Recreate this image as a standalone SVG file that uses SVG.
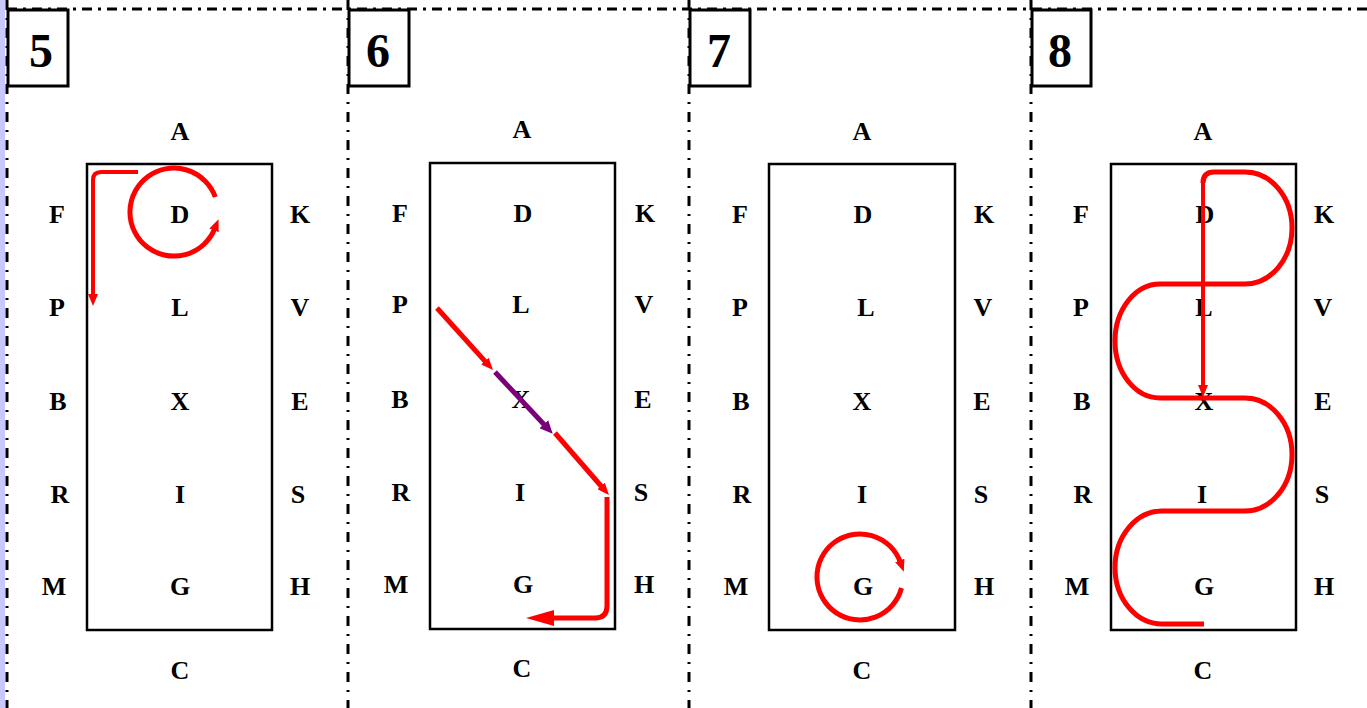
<svg xmlns="http://www.w3.org/2000/svg" width="1367" height="708" viewBox="0 0 1367 708">
<style>
.lbl{font-family:"Liberation Serif","Times New Roman",serif;font-weight:bold;font-size:26px;fill:#000;text-anchor:middle}
.num{font-family:"Liberation Serif","Times New Roman",serif;font-weight:bold;font-size:48px;fill:#000;text-anchor:middle}
.sep{stroke:#000;stroke-width:3;fill:none}
.box{stroke:#000;stroke-width:2.5;fill:none}
.nbox{stroke:#000;stroke-width:3;fill:#fff}
.red{stroke:#ff0000;stroke-width:4;fill:none}
.redw{stroke:#ff0000;stroke-width:5;fill:none}
.pur{stroke:#7a007a;stroke-width:5;fill:none}
</style>
<defs>
<marker id="ah" markerUnits="userSpaceOnUse" markerWidth="12" markerHeight="10" refX="2" refY="5" orient="auto"><path d="M0,0 L12,5 L0,10 z" fill="#ff0000"/></marker>
<marker id="ahp" markerUnits="userSpaceOnUse" markerWidth="13" markerHeight="12" refX="2" refY="6" orient="auto"><path d="M0,0 L13,6 L0,12 z" fill="#7a007a"/></marker>
<marker id="ahb" markerUnits="userSpaceOnUse" markerWidth="28" markerHeight="16" refX="2" refY="8" orient="auto"><path d="M0,0 L28,8 L0,16 z" fill="#ff0000"/></marker>
</defs>
<rect x="0" y="0" width="1367" height="708" fill="#fff"/>
<rect x="0" y="0" width="5" height="708" fill="#c8c8ff"/>
<g id="separators">
<line class="sep" x1="7" y1="9" x2="1367" y2="9" stroke-dasharray="10 6 3 6"/>
<line class="sep" x1="7" y1="0" x2="7" y2="708" stroke-dasharray="10 8 2 8"/>
<line class="sep" x1="348" y1="0" x2="348" y2="708" stroke-dasharray="10 8 2 8"/>
<line class="sep" x1="689" y1="0" x2="689" y2="708" stroke-dasharray="10 8 2 8"/>
<line class="sep" x1="1031" y1="0" x2="1031" y2="708" stroke-dasharray="10 8 2 8"/>
</g>
<g id="panel5">
<rect class="nbox" x="8" y="10" width="60" height="76"/>
<text class="num" x="41" y="67">5</text>
<rect class="box" x="87" y="164" width="185" height="466"/>
<text class="lbl" x="180" y="140">A</text>
<text class="lbl" x="57" y="223">F</text><text class="lbl" x="180" y="223">D</text><text class="lbl" x="300" y="223">K</text>
<text class="lbl" x="57" y="316">P</text><text class="lbl" x="180" y="316">L</text><text class="lbl" x="300" y="316">V</text>
<text class="lbl" x="58" y="410">B</text><text class="lbl" x="180" y="410">X</text><text class="lbl" x="300" y="410">E</text>
<text class="lbl" x="60" y="503">R</text><text class="lbl" x="180" y="503">I</text><text class="lbl" x="298" y="503">S</text>
<text class="lbl" x="54" y="595">M</text><text class="lbl" x="180" y="595">G</text><text class="lbl" x="300" y="595">H</text>
<text class="lbl" x="180" y="679">C</text>
</g>
<g id="panel6">
<rect class="nbox" x="349" y="10" width="60" height="76"/>
<text class="num" x="378" y="67">6</text>
<rect class="box" x="430" y="163" width="185" height="466"/>
<text class="lbl" x="522" y="138">A</text>
<text class="lbl" x="400" y="222">F</text><text class="lbl" x="523" y="222">D</text><text class="lbl" x="645" y="222">K</text>
<text class="lbl" x="400" y="313">P</text><text class="lbl" x="521" y="313">L</text><text class="lbl" x="644" y="313">V</text>
<text class="lbl" x="400" y="408">B</text><text class="lbl" x="521" y="408">X</text><text class="lbl" x="643" y="408">E</text>
<text class="lbl" x="401" y="501">R</text><text class="lbl" x="520" y="501">I</text><text class="lbl" x="641" y="501">S</text>
<text class="lbl" x="396" y="593">M</text><text class="lbl" x="523" y="593">G</text><text class="lbl" x="644" y="593">H</text>
<text class="lbl" x="522" y="677">C</text>
</g>
<g id="panel7">
<rect class="nbox" x="690" y="10" width="60" height="76"/>
<text class="num" x="719" y="67">7</text>
<rect class="box" x="769" y="164" width="186" height="466"/>
<text class="lbl" x="862" y="140">A</text>
<text class="lbl" x="740" y="223">F</text><text class="lbl" x="863" y="223">D</text><text class="lbl" x="984" y="223">K</text>
<text class="lbl" x="740" y="316">P</text><text class="lbl" x="866" y="316">L</text><text class="lbl" x="983" y="316">V</text>
<text class="lbl" x="741" y="410">B</text><text class="lbl" x="862" y="410">X</text><text class="lbl" x="982" y="410">E</text>
<text class="lbl" x="742" y="503">R</text><text class="lbl" x="862" y="503">I</text><text class="lbl" x="981" y="503">S</text>
<text class="lbl" x="736" y="595">M</text><text class="lbl" x="863" y="595">G</text><text class="lbl" x="984" y="595">H</text>
<text class="lbl" x="862" y="679">C</text>
</g>
<g id="panel8">
<rect class="nbox" x="1032" y="10" width="59" height="76"/>
<text class="num" x="1060" y="67">8</text>
<rect class="box" x="1111" y="164" width="185" height="466"/>
<text class="lbl" x="1203" y="140">A</text>
<text class="lbl" x="1081" y="223">F</text><text class="lbl" x="1205" y="223">D</text><text class="lbl" x="1324" y="223">K</text>
<text class="lbl" x="1081" y="316">P</text><text class="lbl" x="1204" y="316">L</text><text class="lbl" x="1323" y="316">V</text>
<text class="lbl" x="1082" y="410">B</text><text class="lbl" x="1204" y="410">X</text><text class="lbl" x="1323" y="410">E</text>
<text class="lbl" x="1083" y="503">R</text><text class="lbl" x="1202" y="503">I</text><text class="lbl" x="1322" y="503">S</text>
<text class="lbl" x="1077" y="595">M</text><text class="lbl" x="1204" y="595">G</text><text class="lbl" x="1324" y="595">H</text>
<text class="lbl" x="1203" y="679">C</text>
</g>
<g id="connectors">
<path class="red" d="M138,172 H101 Q93,172 93,180 V296" marker-end="url(#ah)"/>
<path class="redw" d="M215.3,197 A44,44 0 1 0 214.8,228.5" marker-end="url(#ah)"/>
<path class="redw" d="M437,308 L486.3,362.6" marker-end="url(#ah)"/>
<path class="pur" d="M495,372 L545.2,425.7" marker-end="url(#ahp)"/>
<path class="redw" d="M555,433 L602.4,487.5" marker-end="url(#ah)"/>
<path class="redw" d="M607,497 V606 Q607,618 595,618 H552" marker-end="url(#ahb)"/>
<path class="redw" d="M901.5,588 A43,43 0 1 1 900.4,562.3" marker-end="url(#ah)"/>
<path class="redw" d="M1204,624 H1162 A47,56.5 0 0 1 1162,511 H1245 A47,56.5 0 0 0 1245,398 H1160 A45,57 0 0 1 1160,284 H1245 A47,56 0 0 0 1245,172 H1214 Q1203,172 1203,183"/>
<path class="red" d="M1203,180 V387" marker-end="url(#ah)"/>
</g>
</svg>
